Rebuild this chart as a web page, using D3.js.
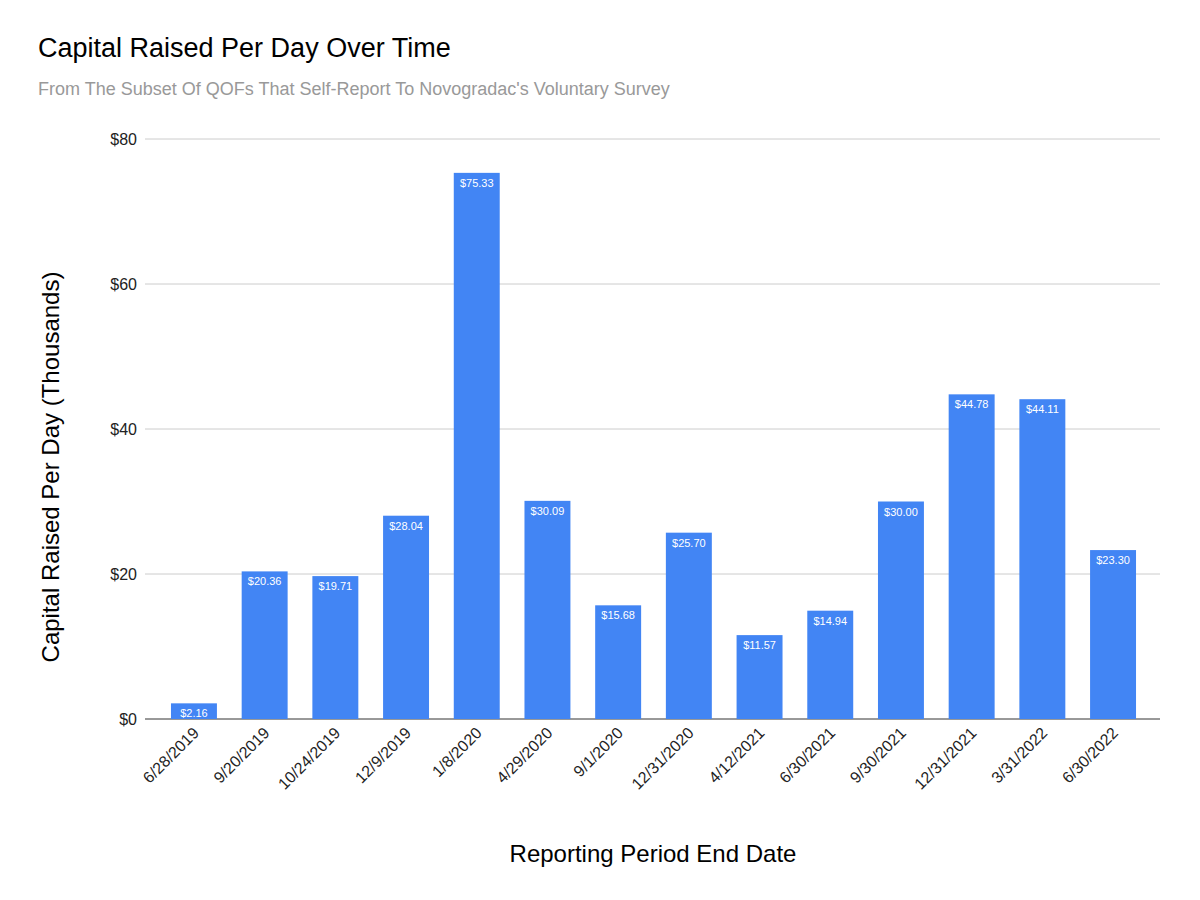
<!DOCTYPE html>
<html>
<head>
<meta charset="utf-8">
<script src="https://cdn.jsdelivr.net/npm/d3@7"></script>
<style>
  body { margin: 0; background: #fff; }
  text { font-family: Arial, "Liberation Sans", sans-serif; }
</style>
</head>
<body>
<svg id="chart" width="1200" height="900"></svg>
<script>
var dates = ['6/28/2019', '9/20/2019', '10/24/2019', '12/9/2019', '1/8/2020', '4/29/2020', '9/1/2020',
  '12/31/2020', '4/12/2021', '6/30/2021', '9/30/2021', '12/31/2021', '3/31/2022', '6/30/2022'];
var perDay = [2.16, 20.36, 19.71, 28.04, 75.33, 30.09, 15.68, 25.70, 11.57, 14.94, 30.00, 44.78, 44.11, 23.30];
var yTicks = [0, 20, 40, 60, 80];

var svg = d3.select('#chart');
var plot = { left: 145, right: 1160, top: 139, bottom: 719 };

var x = d3.scaleBand().domain(dates).range([158.6, 1148.4]).paddingInner(0.35).paddingOuter(0.175);
var y = d3.scaleLinear().domain([0, 80]).range([plot.bottom, plot.top]);

// gridlines
svg.append('g').selectAll('line').data(yTicks).join('line')
  .attr('x1', plot.left).attr('x2', plot.right)
  .attr('y1', d => y(d)).attr('y2', d => y(d))
  .attr('stroke', d => d === 0 ? '#333' : '#ccc').attr('stroke-width', 1);

svg.append('g').selectAll('text').data(yTicks).join('text')
  .attr('x', 137).attr('y', d => y(d) + 6)
  .attr('text-anchor', 'end').attr('font-size', '16px').attr('fill', '#222')
  .text(d => '$' + d);

// bars
var bars = svg.append('g');
bars.selectAll('rect').data(perDay).join('rect')
  .attr('x', (d, i) => x(dates[i])).attr('width', x.bandwidth())
  .attr('y', d => y(d)).attr('height', d => y(0) - y(d))
  .attr('fill', '#4285f4');

bars.selectAll('text').data(perDay).join('text')
  .attr('x', (d, i) => x(dates[i]) + x.bandwidth() / 2)
  .attr('y', d => y(d) + 14)
  .attr('text-anchor', 'middle').attr('font-size', '11px').attr('fill', '#fff')
  .text(d => '$' + d.toFixed(2));

// x tick labels
svg.append('g').selectAll('text').data(dates).join('text')
  .attr('transform', d => 'translate(' + (x(d) + x.bandwidth() / 2 + 6) + ',734) rotate(-45)')
  .attr('text-anchor', 'end').attr('font-size', '16px').attr('fill', '#222')
  .text(d => d);

// titles
svg.append('text').attr('x', 38).attr('y', 57).attr('font-size', '27px').attr('fill', '#000')
  .text('Capital Raised Per Day Over Time');
svg.append('text').attr('x', 38).attr('y', 95).attr('font-size', '18px').attr('fill', '#999')
  .text("From The Subset Of QOFs That Self-Report To Novogradac's Voluntary Survey");
svg.append('text').attr('x', 653).attr('y', 862).attr('text-anchor', 'middle')
  .attr('font-size', '24px').attr('fill', '#000').text('Reporting Period End Date');
svg.append('text').attr('transform', 'translate(59,467) rotate(-90)').attr('text-anchor', 'middle')
  .attr('font-size', '24px').attr('fill', '#000').text('Capital Raised Per Day (Thousands)');
</script>
</body>
</html>
